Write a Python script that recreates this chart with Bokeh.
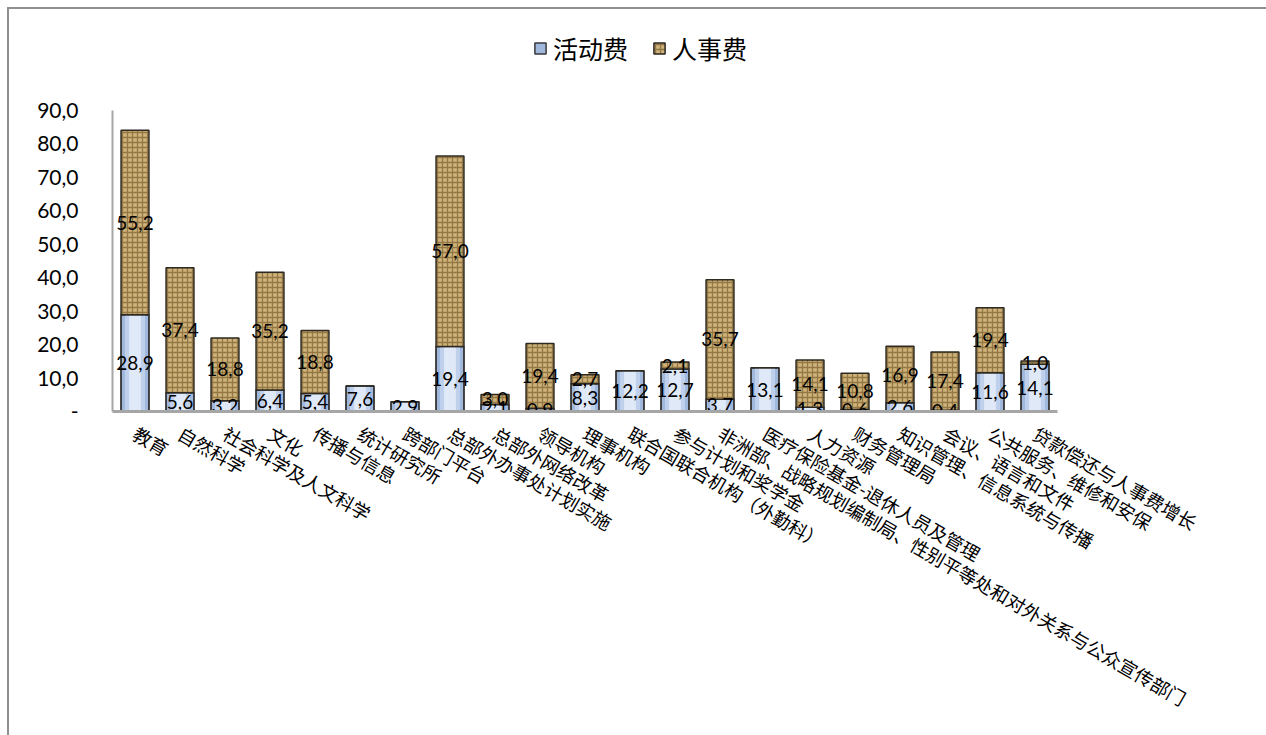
import math
from bokeh.plotting import figure
from bokeh.models import ColumnDataSource, FixedTicker, Legend, LegendItem, Range1d, FactorRange
from bokeh.core.properties import value
from bokeh.embed import file_html
from bokeh.resources import INLINE

categories = [
    "教育", "自然科学", "社会科学及人文科学", "文化", "传播与信息", "统计研究所",
    "跨部门平台", "总部外办事处计划实施", "总部外网络改革", "领导机构", "理事机构",
    "联合国联合机构（外勤科）", "参与计划和奖学金",
    "非洲部、战略规划编制局、性别平等处和对外关系与公众宣传部门",
    "医疗保险基金-退休人员及管理", "人力资源", "财务管理局", "知识管理、信息系统与传播",
    "会议、语言和文件", "公共服务、维修和安保", "贷款偿还与人事费增长",
]
activity = [28.9, 5.6, 3.2, 6.4, 5.4, 7.6, 2.9, 19.4, 2.1, 0.9, 8.3,
            12.2, 12.7, 3.7, 13.1, 1.3, 0.6, 2.6, 0.4, 11.6, 14.1]
personnel = [55.2, 37.4, 18.8, 35.2, 18.8, 0.0, 0.0, 57.0, 3.0, 19.4, 2.7,
             0.0, 2.1, 35.7, 0.0, 14.1, 10.8, 16.9, 17.4, 19.4, 1.0]
y_ticks = [0, 10, 20, 30, 40, 50, 60, 70, 80, 90]
y_tick_labels = ["-", "10,0", "20,0", "30,0", "40,0", "50,0", "60,0", "70,0", "80,0", "90,0"]
series_names = ["活动费", "人事费"]

def fmt(v):
    return f"{v:.1f}".replace(".", ",")

total = [a + b for a, b in zip(activity, personnel)]
src = ColumnDataSource(dict(cat=categories, act=activity, per=personnel, tot=total))

lab_a = dict(cat=[], y=[], t=[])
lab_p = dict(cat=[], y=[], t=[])
for c, a, b in zip(categories, activity, personnel):
    if a > 0:
        lab_a["cat"].append(c); lab_a["y"].append(a / 2); lab_a["t"].append(fmt(a))
    if b > 0:
        lab_p["cat"].append(c); lab_p["y"].append(a + b / 2); lab_p["t"].append(fmt(b))

AXIS_PX = 301          # pixel height of the 0..90 axis
FRAME_H = 382          # frame extends above the axis to host the legend
y_max = y_ticks[-1] * FRAME_H / AXIS_PX

p = figure(x_range=FactorRange(*categories), y_range=Range1d(0, y_max),
           frame_width=945, frame_height=FRAME_H, output_backend="svg",
           toolbar_location=None,
           min_border_left=103, min_border_right=209, min_border_top=20,
           min_border_bottom=324)
p.styles = {"margin-left": "7px", "margin-top": "7px",
            "border-left": "2px solid #8f8f8f", "border-top": "2px solid #8f8f8f"}
p.x_range.range_padding = 0
p.outline_line_color = None
p.border_fill_color = "white"
p.background_fill_color = "white"
p.grid.visible = False

W = 0.62
r_act = p.vbar(x="cat", top="act", bottom=0, width=W, source=src,
               fill_color="#9fb8dc", line_color="#3a3a3a", line_width=1.5)
p.vbar(x="cat", top="act", bottom=0, width=W * 0.72, source=src,
       fill_color="#bfd0ec", line_color=None)
p.vbar(x="cat", top="act", bottom=0, width=W * 0.42, source=src,
       fill_color="#e0e9f7", line_color=None)
p.vbar(x="cat", top="act", bottom=0, width=W, source=src,
       fill_alpha=0, line_color="#3a3a3a", line_width=1.5)

r_per = p.vbar(x="cat", bottom="act", top="tot", width=W, source=src,
               fill_color="#cfb37a", hatch_pattern="cross", hatch_color="#6a4f22",
               hatch_alpha=0.6, hatch_scale=5, hatch_weight=1.3,
               line_color="#2e2a22", line_width=1.5)

for d in (lab_a, lab_p):
    p.text(x="cat", y="y", text="t", source=ColumnDataSource(d),
           text_align="center", text_baseline="middle",
           text_font=value("Lato"), text_font_size="19px", text_color="black")

p.yaxis.ticker = FixedTicker(ticks=y_ticks)
p.yaxis.bounds = (y_ticks[0], y_ticks[-1])
p.yaxis.major_label_overrides = {t: l for t, l in zip(y_ticks, y_tick_labels)}
p.yaxis.major_label_text_font = "Lato"
p.yaxis.major_label_text_font_size = "21px"
p.yaxis.major_label_text_color = "black"
p.yaxis.major_tick_line_color = None
p.yaxis.minor_tick_line_color = None
p.yaxis.axis_line_color = "#a6a6a6"
p.yaxis.axis_line_width = 2
p.yaxis.major_label_standoff = 28

p.xaxis.major_label_orientation = -math.pi / 6
p.xaxis.major_label_text_font = "Noto Sans CJK SC"
p.xaxis.major_label_text_font_size = "18.5px"
p.xaxis.major_label_text_color = "black"
p.xaxis.major_tick_line_color = None
p.xaxis.axis_line_color = "#a6a6a6"
p.xaxis.axis_line_width = 3
p.xaxis.major_label_standoff = 14

legend = Legend(items=[LegendItem(label=series_names[0], renderers=[r_act]),
                       LegendItem(label=series_names[1], renderers=[r_per])],
                orientation="horizontal", location=(421, 345),
                label_text_font="Noto Sans CJK SC", label_text_font_size="25px",
                label_text_color="black",
                glyph_width=14, glyph_height=14, label_standoff=6, spacing=24,
                padding=5, border_line_color=None, background_fill_alpha=0, margin=0)
p.add_layout(legend, "center")

open("out.html", "w").write(file_html(p, INLINE))
